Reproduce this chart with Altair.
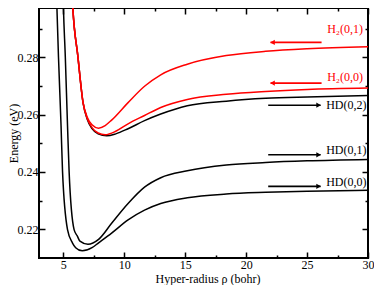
import altair as alt
import pandas as pd

# ---------------- data ----------------
hd00_rho = [4.41, 4.45, 4.60, 4.81, 4.93, 5.34, 5.74, 6.01, 6.55, 7.35, 7.89, 8.96, 10.31, 11.66, 12.99, 15.17, 18.37, 21.60, 25.00, 30.00]
hd00_E = [0.3060, 0.3000, 0.2800, 0.2561, 0.2403, 0.2199, 0.2153, 0.2136, 0.2125, 0.2136, 0.2153, 0.2187, 0.2233, 0.2267, 0.2290, 0.2310, 0.2323, 0.2329, 0.2333, 0.2336]

hd01_rho = [4.96, 4.99, 5.16, 5.34, 5.47, 5.88, 6.14, 6.36, 7.02, 7.89, 8.96, 10.31, 11.66, 12.99, 15.17, 18.37, 21.60, 25.00, 30.00]
hd01_E = [0.3060, 0.3000, 0.2800, 0.2562, 0.2403, 0.2199, 0.2177, 0.2159, 0.2148, 0.2165, 0.2221, 0.2290, 0.2347, 0.2380, 0.2404, 0.2424, 0.2433, 0.2439, 0.2444]

hd02_rho = [5.70, 5.74, 6.20, 6.62, 6.95, 7.35, 7.85, 8.56, 9.30, 10.31, 11.66, 12.99, 15.17, 18.37, 21.60, 25.00, 30.00]
hd02_E = [0.3060, 0.3000, 0.2800, 0.2640, 0.2585, 0.2551, 0.2533, 0.2526, 0.2533, 0.2551, 0.2579, 0.2602, 0.2631, 0.2647, 0.2657, 0.2662, 0.2667]

h200_rho = [5.70, 5.74, 6.20, 6.62, 6.95, 7.35, 7.85, 8.43, 9.30, 10.31, 11.66, 12.99, 15.17, 18.37, 21.60, 25.00, 30.00]
h200_E = [0.3060, 0.3000, 0.2800, 0.2640, 0.2587, 0.2555, 0.2536, 0.2530, 0.2542, 0.2568, 0.2597, 0.2625, 0.2653, 0.2671, 0.2681, 0.2688, 0.2693]

h201_rho = [5.70, 5.74, 6.20, 6.62, 6.95, 7.35, 7.89, 8.43, 8.96, 10.31, 11.66, 12.99, 15.17, 18.37, 21.60, 25.00, 30.00]
h201_E = [0.3060, 0.3000, 0.2800, 0.2642, 0.2592, 0.2565, 0.2553, 0.2562, 0.2581, 0.2642, 0.2699, 0.2739, 0.2776, 0.2806, 0.2821, 0.2830, 0.2837]

# arrows (tail -> head) and labels
black_arrow_E = [0.2633, 0.2460, 0.2350]
black_arrow_tail = [21.81, 21.81, 21.81]
black_arrow_head = [26.11, 26.11, 26.11]
red_arrow_E = [0.2852, 0.2710]
red_arrow_tail = [26.19, 26.19]
red_arrow_head = [22.00, 22.00]

black_labels = ["HD(0,2)", "HD(0,1)", "HD(0,0)"]
black_label_rho = [26.57, 26.57, 26.57]
black_label_E = [0.26187, 0.24636, 0.23527]
red_labels = ["H\u2082(0,1)", "H\u2082(0,0)"]
red_label_rho = [26.65, 26.65]
red_label_E = [0.28863, 0.27158]

x_major = [5, 10, 15, 20, 25, 30]
x_minor = [7.5, 12.5, 17.5, 22.5, 27.5]
y_major = [0.22, 0.24, 0.26, 0.28]
y_minor = [0.23, 0.25, 0.27, 0.29]

x_domain = [3, 30]
y_domain = [0.21, 0.2972]

# ---------------- tables ----------------
def curve(name, rho, e):
    return pd.DataFrame({"curve": name, "rho": rho, "E": e})

black_df = pd.concat([curve("HD(0,0)", hd00_rho, hd00_E),
                      curve("HD(0,1)", hd01_rho, hd01_E),
                      curve("HD(0,2)", hd02_rho, hd02_E)], ignore_index=True)
red_df = pd.concat([curve("H2(0,0)", h200_rho, h200_E),
                    curve("H2(0,1)", h201_rho, h201_E)], ignore_index=True)

barrow_df = pd.DataFrame({"E": black_arrow_E, "tail": black_arrow_tail, "head": black_arrow_head})
rarrow_df = pd.DataFrame({"E": red_arrow_E, "tail": red_arrow_tail, "head": red_arrow_head})
blab_df = pd.DataFrame({"label": black_labels, "rho": black_label_rho, "E": black_label_E})
rlab_df = pd.DataFrame({"label": red_labels, "rho": red_label_rho, "E": red_label_E})

W, H = 329, 250
FONT = "Liberation Serif, Times New Roman, Times, serif"
RED = "#ff0000"

xs = alt.Scale(domain=x_domain, nice=False, zero=False)
ys = alt.Scale(domain=y_domain, nice=False, zero=False)

main_x = alt.Axis(orient="bottom", values=x_major, ticks=False, labelPadding=1, format="d",
                  title="Hyper-radius \u03c1 (bohr)", titleX=168.5, titleY=24,
                  titleAlign="center", titleBaseline="alphabetic")
main_y = alt.Axis(orient="left", values=y_major, ticks=False, labelPadding=1, format=".2f",
                  title="Energy (eV)", titleX=-21.8, titleY=125, titleAngle=270,
                  titleAlign="center", titleBaseline="alphabetic")


def tick_axis(orient, offset, values, size):
    return alt.Axis(orient=orient, offset=offset, values=values, tickSize=size,
                    labels=False, title="")


black_lines = alt.Chart(black_df).mark_line(
    color="black", strokeWidth=1.5, clip=True, interpolate="monotone"
).encode(
    x=alt.X("rho:Q", scale=xs, axis=main_x),
    y=alt.Y("E:Q", scale=ys, axis=main_y),
    detail="curve:N",
)

red_lines = alt.Chart(red_df).mark_line(
    color=RED, strokeWidth=1.5, clip=True, interpolate="monotone"
).encode(
    x=alt.X("rho:Q", scale=xs, axis=None),
    y=alt.Y("E:Q", scale=ys, axis=None),
    detail="curve:N",
)


def tick_layer(xo, xoff, yo, yoff, xv, yv, size):
    return alt.Chart(blab_df).mark_point(opacity=0).encode(
        x=alt.X("rho:Q", scale=xs, axis=tick_axis(xo, xoff, xv, size)),
        y=alt.Y("E:Q", scale=ys, axis=tick_axis(yo, yoff, yv, size)),
    )

# ticks on bottom/left edges pointing inward, then on top/right edges
t1 = tick_layer("top", -H, "right", -W, x_major, y_major, 6)
t2 = tick_layer("top", -H, "right", -W, x_minor, y_minor, 3)
t3 = tick_layer("bottom", -H, "left", -W, x_major, y_major, 6)
t4 = tick_layer("bottom", -H, "left", -W, x_minor, y_minor, 3)

b_rule = alt.Chart(barrow_df).mark_rule(color="black", strokeWidth=1.6).encode(
    x=alt.X("tail:Q", scale=xs, axis=None), x2="head:Q", y=alt.Y("E:Q", scale=ys, axis=None))
b_head = alt.Chart(barrow_df).mark_point(
    shape="triangle-right", filled=True, color="black", size=28, opacity=1, xOffset=-2
).encode(x=alt.X("head:Q", scale=xs, axis=None), y=alt.Y("E:Q", scale=ys, axis=None))
r_rule = alt.Chart(rarrow_df).mark_rule(color=RED, strokeWidth=1.6).encode(
    x=alt.X("tail:Q", scale=xs, axis=None), x2="head:Q", y=alt.Y("E:Q", scale=ys, axis=None))
r_head = alt.Chart(rarrow_df).mark_point(
    shape="triangle-left", filled=True, color=RED, size=28, opacity=1, xOffset=2
).encode(x=alt.X("head:Q", scale=xs, axis=None), y=alt.Y("E:Q", scale=ys, axis=None))

b_text = alt.Chart(blab_df).mark_text(
    align="left", baseline="alphabetic", font=FONT, fontSize=12, color="black"
).encode(x=alt.X("rho:Q", scale=xs, axis=None), y=alt.Y("E:Q", scale=ys, axis=None), text="label:N")
r_text = alt.Chart(rlab_df).mark_text(
    align="left", baseline="alphabetic", font=FONT, fontSize=12, color=RED
).encode(x=alt.X("rho:Q", scale=xs, axis=None), y=alt.Y("E:Q", scale=ys, axis=None), text="label:N")

chart = alt.layer(
    black_lines, red_lines, t1, t2, t3, t4, b_rule, b_head, r_rule, r_head, b_text, r_text
).resolve_axis(
    x="independent", y="independent"
).properties(
    width=W, height=H,
    padding={"left": 31, "top": 0, "right": 6, "bottom": 27},
    autosize=alt.AutoSizeParams(type="none"),
    background="white",
).configure(
    font=FONT
).configure_view(
    stroke="black", strokeWidth=2
).configure_axis(
    labelFont=FONT, titleFont=FONT, labelFontSize=12, titleFontSize=12,
    labelColor="black", titleColor="black", titleFontWeight="normal",
    tickColor="black", tickWidth=1.5, grid=False, domain=False, labelFlush=False,
)

chart.save("out.html", embed_options={"renderer": "svg", "actions": False})
